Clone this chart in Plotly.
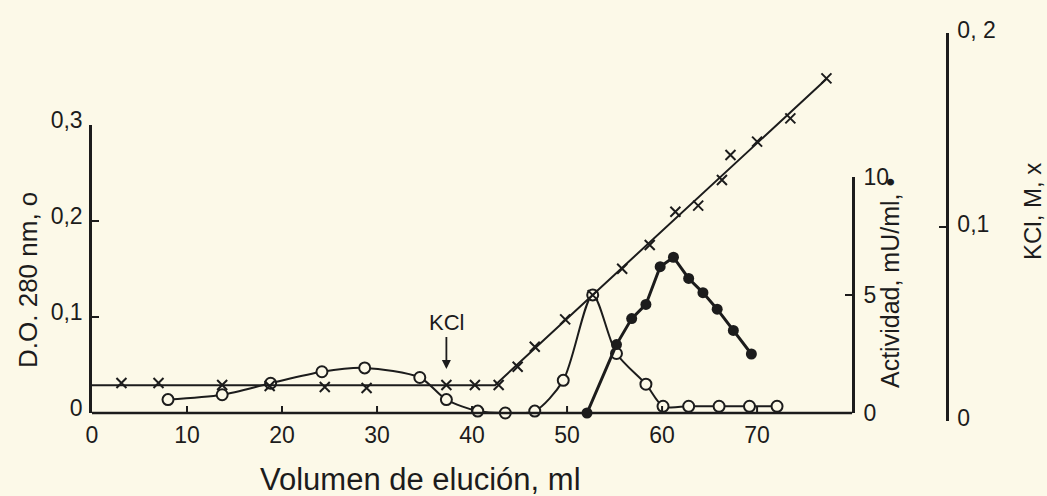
import numpy as np
import plotly.graph_objects as go

# Elution volume (ml) and absorbance at 280 nm (open circles)
od_ml = [8.0, 13.7, 18.8, 24.2, 28.7, 34.5, 37.3, 40.6, 43.5, 46.6, 49.6,
         52.7, 55.2, 58.3, 60.1, 62.8, 66.0, 69.2, 72.1]
od_abs = [0.014, 0.019, 0.031, 0.043, 0.047, 0.037, 0.014, 0.002, 0.0, 0.002,
          0.034, 0.123, 0.062, 0.030, 0.007, 0.007, 0.007, 0.007, 0.007]

# Enzyme activity, mU/ml (filled circles)
act_ml = [52.1, 55.2, 56.8, 58.3, 59.8, 61.2, 62.8, 64.3, 65.8, 67.5, 69.4]
act_mu = [0.0, 2.9, 4.0, 4.6, 6.2, 6.6, 5.7, 5.1, 4.4, 3.5, 2.5]

# KCl concentration, M (crosses)
kcl_ml = [3.1, 7.0, 13.7, 18.7, 24.5, 28.9, 37.3, 40.3, 42.8, 44.8, 46.6,
          49.8, 52.7, 55.8, 58.7, 61.4, 63.8, 66.3, 67.2, 70.0, 73.5, 77.3]
kcl_m = [0.0196, 0.0196, 0.0186, 0.0180, 0.0175, 0.0170, 0.0186, 0.0186,
         0.0186, 0.0280, 0.0383, 0.0524, 0.0649, 0.0785, 0.0907, 0.1079,
         0.1110, 0.1242, 0.1371, 0.1440, 0.1560, 0.1766]
gradient_from_ml = 43.0     # crosses beyond this volume belong to the salt gradient
kcl_added_ml = 37.3         # volume at which KCl was applied

# Axis ticks
x_ticks = [0, 10, 20, 30, 40, 50, 60, 70]
od_ticks = [0, 0.1, 0.2, 0.3]
od_ticktext = ["0", "0,1", "0,2", "0,3"]
act_ticks = [0, 5, 10]
kcl_ticks = [0, 0.1, 0.2]
kcl_ticktext = ["0", "0,1", "0, 2"]

INK = "#1c1c1c"
BG = "#FCF9E8"
FONT = "Liberation Sans"
X_RANGE = [0, 80]
X_DOMAIN = [0, 0.889]
OD_DOMAIN = [0.0206, 0.7629]
ACT_DOMAIN = [0.0206, 0.6289]
LINE_W = 2.5
TICK_LEN = 7

# Baseline of the KCl plot and a least-squares line through the gradient
kx = np.array(kcl_ml)
ky = np.array(kcl_m)
flat = kx < gradient_from_ml
baseline = ky[flat].mean()
slope, intercept = np.polyfit(kx[~flat], ky[~flat], 1)
break_ml = (baseline - intercept) / slope
kcl_line_x = [0.0, break_ml, kx.max()]
kcl_line_y = [baseline, baseline, slope * kx.max() + intercept]

fig = go.Figure()

# KCl trend line and crosses
fig.add_trace(go.Scatter(x=kcl_line_x, y=kcl_line_y, mode="lines",
                         line=dict(color=INK, width=2), xaxis="x3", yaxis="y3",
                         cliponaxis=False, hoverinfo="skip"))
fig.add_trace(go.Scatter(x=kcl_ml, y=kcl_m, mode="markers",
                         xaxis="x3", yaxis="y3", cliponaxis=False,
                         marker=dict(symbol="x-thin", size=10,
                                     line=dict(width=2, color=INK))))

# Activity profile
fig.add_trace(go.Scatter(x=act_ml, y=act_mu, mode="lines+markers",
                         xaxis="x2", yaxis="y2", cliponaxis=False,
                         line=dict(color=INK, width=3),
                         marker=dict(symbol="circle", size=11, color=INK)))

# Absorbance profile
fig.add_trace(go.Scatter(x=od_ml, y=od_abs, mode="lines+markers",
                         xaxis="x", yaxis="y", cliponaxis=False,
                         line=dict(color=INK, width=2, shape="spline",
                                   smoothing=0.8),
                         marker=dict(symbol="circle", size=11, color=BG,
                                     line=dict(width=2, color=INK))))

tickfont = dict(family=FONT, size=23, color=INK)
axis_style = dict(ticks="inside", ticklen=TICK_LEN, tickwidth=2, tickcolor=INK,
                  showline=True, linecolor=INK, linewidth=LINE_W,
                  showgrid=False, zeroline=False, tickfont=tickfont)
hidden_x = dict(domain=X_DOMAIN, range=X_RANGE, visible=False,
                showgrid=False, zeroline=False)

fig.update_layout(
    width=1047, height=496,
    margin=dict(l=92, r=100, t=33, b=75),
    paper_bgcolor=BG, plot_bgcolor="rgba(0,0,0,0)",
    showlegend=False,
    font=dict(family=FONT, color=INK),
    xaxis=dict(domain=X_DOMAIN, range=X_RANGE, anchor="y",
               tickvals=x_ticks, ticks="", showline=False, showgrid=False,
               zeroline=False, tickfont=tickfont, ticklabelstandoff=6),
    xaxis2=dict(anchor="y2", **hidden_x),
    xaxis3=dict(anchor="y3", **hidden_x),
    yaxis=dict(domain=OD_DOMAIN, range=[0, 0.3], anchor="x",
               tickvals=od_ticks, ticktext=od_ticktext,
               ticklabelshift=-5, ticklabelstandoff=2, **axis_style),
    yaxis2=dict(domain=ACT_DOMAIN, range=[0, 10], anchor="x2",
                side="right", tickvals=act_ticks, ticklabelstandoff=4,
                **axis_style),
    yaxis3=dict(domain=[0, 1], range=[0, 0.2], anchor="free", position=1.0,
                side="right", tickvals=kcl_ticks, ticktext=kcl_ticktext,
                ticklabelshift=-3, ticklabelstandoff=4, **axis_style),
)

# Volume axis: baseline level with the absorbance zero, inward tick marks
fig.add_shape(type="line", xref="paper", yref="paper",
              x0=X_DOMAIN[0], x1=X_DOMAIN[1], y0=OD_DOMAIN[0], y1=OD_DOMAIN[0],
              line=dict(color=INK, width=LINE_W))
for t in x_ticks[1:]:
    fig.add_shape(type="line", xref="x", yref="paper", ysizemode="pixel",
                  yanchor=OD_DOMAIN[0], x0=t, x1=t, y0=0, y1=TICK_LEN,
                  line=dict(color=INK, width=2))

title_font = dict(family=FONT, color=INK)
common = dict(xref="paper", yref="paper", showarrow=False,
              xanchor="center", yanchor="middle")
fig.add_annotation(text="Volumen de elución, ml",
                   x=(420 - 92) / 855, y=-(480 - 421) / 388,
                   font=dict(size=31, **title_font), **common)
fig.add_annotation(text="D.O. 280 nm, o",
                   x=(28 - 92) / 855, y=(421 - 280) / 388, textangle=-90,
                   font=dict(size=26, **title_font), **common)
fig.add_annotation(text="Actividad, mU/ml, •",
                   x=(890 - 92) / 855, y=(421 - 283) / 388, textangle=-90,
                   font=dict(size=25, **title_font), **common)
fig.add_annotation(text="KCl, M, x",
                   x=(1032 - 92) / 855, y=(421 - 212) / 388, textangle=-90,
                   font=dict(size=24, **title_font), **common)

# Point of KCl application
kcl_at_add = kcl_m[kcl_ml.index(kcl_added_ml)]
fig.add_annotation(text="KCl", x=kcl_added_ml, y=kcl_at_add, xref="x3",
                   yref="y3", ax=0, ay=-62, showarrow=True, arrowhead=2,
                   arrowsize=1, arrowwidth=1.8, arrowcolor=INK, standoff=16,
                   font=dict(size=22, **title_font))

fig.write_html("out.html")
